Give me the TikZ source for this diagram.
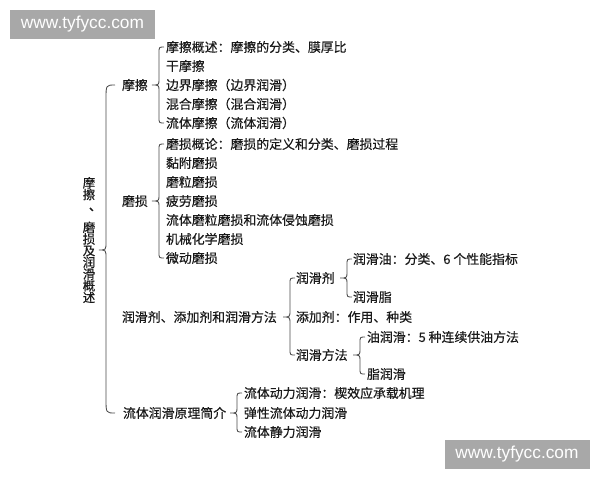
\documentclass[tikz,border=0pt]{standalone}
\usepackage{fontspec}
\newfontfamily\cjk[FakeBold=0.35]{Noto Sans CJK SC}
\newfontfamily\wmfont{Liberation Sans}
\usetikzlibrary{calc}
\definecolor{txt}{HTML}{1A1A1A}
\definecolor{ln}{HTML}{4A4A4A}
\definecolor{wmgray}{HTML}{A8A8A8}
% #1 parent point, #2 first child, #3 last child, #4 gap vertical->child,
% #5 end hook length, #6 end radius, #7 mid radius
\newcommand{\mybrace}[7]{%
  \draw[brc] let \p1=(#1), \p2=(#2.west), \p3=(#3.west),
    \n1={\x2-#4pt}, \n2={\x2-#4pt-7pt} in
    ({\n1+#5pt},\y2) .. controls (\n1,\y2) .. (\n1,{\y2-#6pt})
    -- (\n1,{\y1+#7pt}) .. controls (\n1,\y1) .. (\n2,\y1)
    .. controls (\n1,\y1) .. (\n1,{\y1-#7pt})
    -- (\n1,{\y3+#6pt}) .. controls (\n1,\y3) .. ({\n1+#5pt},\y3);}
\begin{document}
\begin{tikzpicture}[x=1pt,y=-1pt,
  every node/.style={inner sep=0pt, outer sep=0pt},
  lbl/.style={anchor=west, font=\cjk\fontsize{12.9}{15}\selectfont, text=txt,
    text height=11.35pt, text depth=1.55pt},
  title/.style={anchor=north, text=txt, font=\cjk\fontsize{12.5}{11.7}\selectfont},
  brc/.style={draw=ln, line width=0.85pt},
  wm/.style={fill=wmgray, text=white, font=\wmfont\fontsize{17.3}{20}\selectfont,
    minimum width=145pt, minimum height=29pt}]
\fill[white] (0,0) rectangle (600,480);
\useasboundingbox (0,0) rectangle (600,480);

% watermarks
\node[wm] (wma) at (82.5,24.5) {www.tyfycc.com};
\node[wm] (wmb) at (517,454.5) {www.tyfycc.com};

% title
\node[title] (title) at (89,177) {\parbox[t]{14pt}{\centering\baselineskip=11.7pt\lineskiplimit=-50pt\lineskip=0pt\relax
  摩\\擦\\[-0.5pt]\makebox[0pt][l]{、}\\[9.8pt]磨\\损\\及\\润\\滑\\概\\述}};

% level 1
\node[lbl] (mc) at (122,85) {摩擦};
\node[lbl] (ms) at (122,201) {磨损};
\node[lbl] (rh) at (122,317) {润滑剂、添加剂和润滑方法};
\node[lbl] (lt) at (123,413) {流体润滑原理简介};

% friction
\node[lbl] (mc1) at (166,47) {摩擦概述：摩擦的分类、膜厚比};
\node[lbl] (mc2) at (166,66) {干摩擦};
\node[lbl] (mc3) at (166,85) {边界摩擦（边界润滑）};
\node[lbl] (mc4) at (166,104) {混合摩擦（混合润滑）};
\node[lbl] (mc5) at (166,123) {流体摩擦（流体润滑）};

% wear
\node[lbl] (ms1) at (166,144) {磨损概论：磨损的定义和分类、磨损过程};
\node[lbl] (ms2) at (166,163) {黏附磨损};
\node[lbl] (ms3) at (166,182) {磨粒磨损};
\node[lbl] (ms4) at (166,201) {疲劳磨损};
\node[lbl] (ms5) at (166,220) {流体磨粒磨损和流体侵蚀磨损};
\node[lbl] (ms6) at (166,239) {机械化学磨损};
\node[lbl] (ms7) at (166,258) {微动磨损};

% lubrication
\node[lbl] (rhj) at (296,278) {润滑剂};
\node[lbl] (tjj) at (296,317) {添加剂：作用、种类};
\node[lbl] (rhf) at (296,355) {润滑方法};
\node[lbl] (rhy) at (353,259) {润滑油：分类、6 个性能指标};
\node[lbl] (rhz) at (353,297) {润滑脂};
\node[lbl] (yrh) at (367,337) {油润滑：5 种连续供油方法};
\node[lbl] (zrh) at (367,374) {脂润滑};

% fluid lubrication
\node[lbl] (lt1) at (244,393) {流体动力润滑：楔效应承载机理};
\node[lbl] (lt2) at (244,413) {弹性流体动力润滑};
\node[lbl] (lt3) at (244,432) {流体静力润滑};

% braces
\mybrace{$(title.east)+(0,10)$}{mc}{lt}{16}{9}{14}{8}
\mybrace{mc.east}{mc1}{mc5}{7}{5}{6}{6}
\mybrace{ms.east}{ms1}{ms7}{7}{5}{6}{6}
\mybrace{rh.east}{rhj}{rhf}{6}{5}{6}{7}
\mybrace{rhj.east}{rhy}{rhz}{6}{5}{6}{6}
\mybrace{rhf.east}{yrh}{zrh}{7}{5}{6}{6}
\mybrace{lt.east}{lt1}{lt3}{7}{5}{6}{6}
\end{tikzpicture}
\end{document}
